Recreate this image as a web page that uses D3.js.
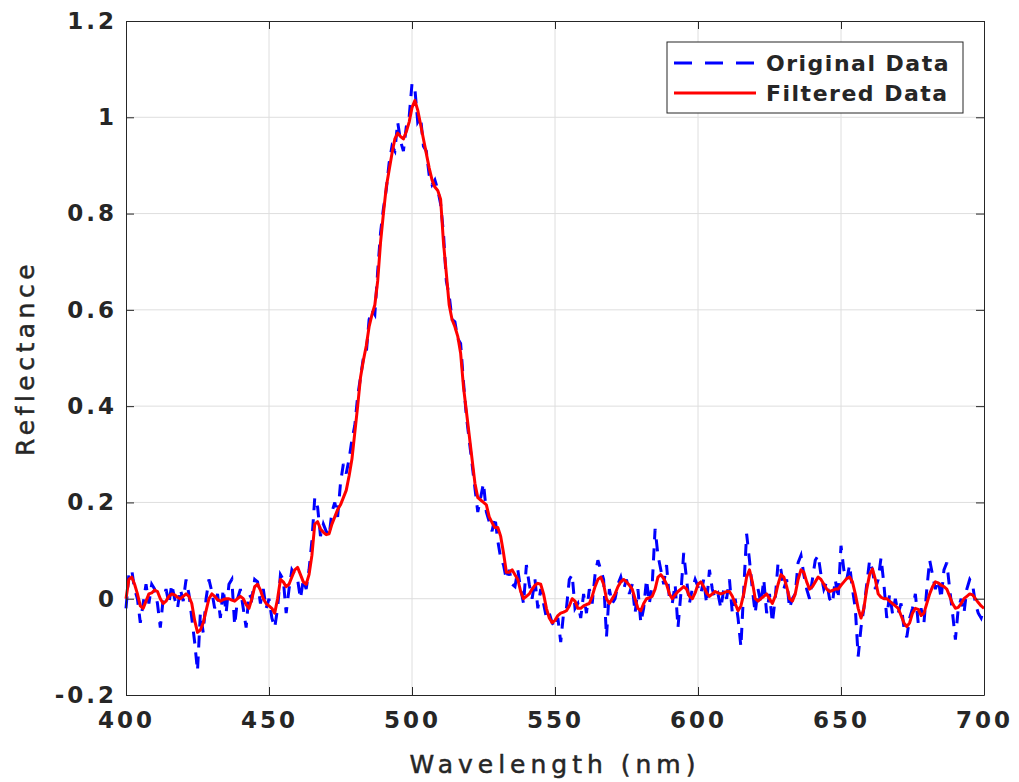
<!DOCTYPE html>
<html>
<head>
<meta charset="utf-8">
<script src="https://cdn.jsdelivr.net/npm/d3@7"></script>
<style>
  body { margin: 0; background: #fff; }
  text { font-family: "DejaVu Sans", sans-serif; fill: #262626; }
</style>
</head>
<body>
<div id="chart"></div>
<script>
// wavelength samples, 1 nm step
var wavelengths = d3.range(400, 701);

var xTicks = [400, 450, 500, 550, 600, 650, 700];
var yTicks = [-0.2, 0, 0.2, 0.4, 0.6, 0.8, 1, 1.2];
var yTickLabels = ["-0.2", "0", "0.2", "0.4", "0.6", "0.8", "1", "1.2"];

var originalData = [
  -0.02, 0.05, 0.06, 0.02, 0.0, -0.05, -0.01, 0.03, -0.01, 0.03,
  0.02, -0.01, -0.06, 0.0, 0.02, -0.01, 0.03, 0.0, -0.02, 0.02,
  -0.005, 0.04, 0.01, -0.04, -0.09, -0.15, -0.03, -0.07, 0.0, 0.04,
  0.015, -0.02, 0.01, -0.04, 0.02, -0.03, 0.03, 0.04, -0.055, 0.0,
  0.02, -0.02, -0.06, 0.01, 0.0, 0.04, 0.035, -0.01, 0.02, -0.02,
  0.0, -0.04, -0.06, -0.02, 0.05, 0.04, -0.03, 0.02, 0.06, 0.05,
  0.04, 0.0, 0.04, 0.02, 0.06, 0.12, 0.21, 0.19, 0.13, 0.155,
  0.14, 0.13, 0.18, 0.2, 0.17, 0.24, 0.28, 0.26, 0.29, 0.33,
  0.36, 0.42, 0.46, 0.50, 0.51, 0.58, 0.60, 0.59, 0.68, 0.76,
  0.81, 0.85, 0.905, 0.94, 0.93, 0.99, 0.95, 0.93, 0.98, 1.0,
  1.07, 1.06, 0.99, 1.0, 0.94, 0.93, 0.88, 0.86, 0.87, 0.85,
  0.82, 0.76, 0.66, 0.63, 0.58, 0.575, 0.54, 0.53, 0.45, 0.38,
  0.33, 0.28, 0.23, 0.18, 0.21, 0.24, 0.18, 0.16, 0.14, 0.17,
  0.12, 0.085, 0.07, 0.04, 0.06, 0.03, 0.025, 0.06, 0.02, -0.01,
  0.07, 0.03, 0.0, 0.04, -0.02, 0.02, -0.01, -0.04, -0.03, -0.05,
  -0.06, -0.04, -0.09, -0.03, -0.02, 0.04, 0.05, -0.02, -0.01, -0.04,
  0.01, -0.03, 0.02, -0.01, 0.05, 0.08, 0.06, 0.04, -0.08, 0.02,
  -0.01, 0.0, 0.03, 0.045, 0.02, 0.04, 0.01, 0.03, -0.03, 0.02,
  -0.05, -0.02, 0.04, -0.01, 0.03, 0.145, 0.09, 0.06, 0.03, 0.07,
  0.0, -0.01, 0.03, -0.06, 0.01, 0.095, 0.04, -0.01, 0.02, 0.04,
  0.025, 0.01, 0.04, -0.01, 0.06, 0.02, 0.0, 0.01, -0.02, 0.02,
  0.0, 0.04, -0.03, 0.0, -0.04, -0.1, 0.02, 0.135, 0.08, 0.02,
  -0.03, 0.02, -0.01, 0.04, -0.03, 0.01, -0.05, 0.0, 0.075, 0.06,
  0.02, 0.04, -0.02, 0.0, 0.01, 0.075, 0.09, 0.05, 0.02, 0.0,
  0.04, 0.08, 0.09, 0.05, 0.02, 0.035, 0.0, -0.01, 0.04, 0.0,
  0.11, 0.06, 0.04, 0.07, 0.02, -0.02, -0.12, -0.06, -0.02, 0.03,
  0.08, 0.06, 0.02, 0.04, 0.085, 0.03, -0.04, 0.01, -0.03, 0.0,
  -0.03, -0.01, -0.06, -0.08, -0.04, -0.02, 0.01, -0.05, -0.02, -0.05,
  0.02, 0.08, 0.05, 0.02, 0.04, 0.0, 0.06, 0.075, 0.02, -0.03,
  -0.085, -0.02, 0.0, -0.03, 0.02, 0.04, 0.03, -0.01, -0.03, -0.04,
  -0.02
];

var filteredData = [
  0.0, 0.04, 0.045, 0.03, 0.01, -0.015, -0.02, -0.005, 0.01, 0.012,
  0.018, 0.015, 0.0, -0.01, -0.005, 0.005, 0.01, 0.008, 0.003, 0.0,
  0.005, 0.01, 0.005, -0.01, -0.045, -0.07, -0.065, -0.05, -0.025, 0.0,
  0.01, 0.005, -0.002, -0.005, -0.002, 0.0, 0.0, -0.003, -0.005, 0.0,
  0.005, 0.0, -0.012, -0.02, 0.0, 0.025, 0.03, 0.018, 0.0, -0.01,
  -0.015, -0.02, -0.03, 0.0, 0.04, 0.035, 0.025, 0.03, 0.045, 0.06,
  0.065, 0.05, 0.035, 0.03, 0.05, 0.09, 0.155, 0.16, 0.145, 0.138,
  0.133, 0.135, 0.155, 0.17, 0.185, 0.195, 0.21, 0.225, 0.255, 0.29,
  0.345, 0.40, 0.46, 0.495, 0.525, 0.565, 0.59, 0.61, 0.66, 0.74,
  0.80, 0.855, 0.89, 0.925, 0.955, 0.967, 0.96, 0.955, 0.97, 0.99,
  1.02, 1.035, 1.015, 0.985, 0.955, 0.925, 0.895, 0.87, 0.855, 0.848,
  0.83, 0.74, 0.676, 0.61, 0.58, 0.565, 0.545, 0.51, 0.44, 0.39,
  0.34, 0.29, 0.24, 0.21, 0.205, 0.2, 0.195, 0.17, 0.158, 0.148,
  0.148, 0.13, 0.095, 0.055, 0.055, 0.06, 0.05, 0.04, 0.015, 0.0,
  0.005, 0.01, 0.02, 0.028, 0.032, 0.03, 0.01, -0.02, -0.04, -0.05,
  -0.045, -0.035, -0.03, -0.028, -0.025, -0.015, 0.0, -0.005, -0.02, -0.02,
  -0.015, -0.012, -0.01, 0.005, 0.025, 0.04, 0.045, 0.03, 0.0, -0.01,
  0.0, 0.01, 0.025, 0.035, 0.04, 0.035, 0.028, 0.02, 0.0, -0.02,
  -0.025, -0.01, 0.0, 0.002, 0.005, 0.02, 0.045, 0.05, 0.042, 0.03,
  0.01, 0.0, 0.008, 0.015, 0.02, 0.025, 0.02, 0.005, 0.0, 0.012,
  0.03, 0.035, 0.025, 0.012, 0.005, 0.01, 0.015, 0.012, 0.01, 0.012,
  0.015, 0.015, 0.005, -0.01, -0.025, -0.015, 0.01, 0.045, 0.06, 0.035,
  0.0, -0.005, 0.0, 0.005, 0.01, 0.0, -0.01, 0.005, 0.03, 0.05,
  0.045, 0.025, 0.0, -0.005, 0.01, 0.04, 0.06, 0.055, 0.035, 0.02,
  0.025, 0.035, 0.045, 0.04, 0.03, 0.02, 0.015, 0.017, 0.02, 0.02,
  0.028, 0.035, 0.042, 0.045, 0.035, 0.01, -0.02, -0.04, -0.02, 0.02,
  0.05, 0.062, 0.04, 0.01, 0.003, 0.0, 0.0, -0.005, -0.01, -0.015,
  -0.02, -0.035, -0.05, -0.058, -0.05, -0.03, -0.02, -0.022, -0.035, -0.03,
  -0.01, 0.01, 0.025, 0.035, 0.033, 0.028, 0.025, 0.02, 0.005, -0.01,
  -0.02, -0.018, -0.01, 0.0, 0.005, 0.01, 0.008, 0.0, -0.008, -0.015,
  -0.02
];

var seriesNames = ["Original Data", "Filtered Data"];
var seriesColors = ["#0000ff", "#ff0000"];

var W = 1019, H = 782;
var margin = {top: 21, right: 35, bottom: 87, left: 126},
    width = W - margin.left - margin.right,
    height = H - margin.top - margin.bottom;

var svg = d3.select("#chart")
    .append("svg")
    .attr("width", W)
    .attr("height", H)
    .append("g")
    .attr("transform", "translate(" + margin.left + "," + margin.top + ")");

var x = d3.scaleLinear().domain([400, 700]).range([0, width]);
var y = d3.scaleLinear().domain([-0.2, 1.2]).range([height, 0]);

// grid
svg.append("g").selectAll("line.vg")
    .data(xTicks.slice(1, -1))
    .enter().append("line")
    .attr("x1", function (d) { return x(d); })
    .attr("x2", function (d) { return x(d); })
    .attr("y1", 0).attr("y2", height)
    .attr("stroke", "#dedede").attr("stroke-width", 1);
svg.append("g").selectAll("line.hg")
    .data(yTicks.slice(1, -1))
    .enter().append("line")
    .attr("x1", 0).attr("x2", width)
    .attr("y1", function (d) { return y(d); })
    .attr("y2", function (d) { return y(d); })
    .attr("stroke", "#dedede").attr("stroke-width", 1);

// data lines
var line = function (vals) {
  return d3.line()
      .x(function (d, i) { return x(wavelengths[i]); })
      .y(function (d) { return y(d); })(vals);
};

svg.append("path")
    .attr("d", line(originalData))
    .attr("fill", "none")
    .attr("stroke", seriesColors[0])
    .attr("stroke-width", 3)
    .attr("stroke-dasharray", "12,9");

svg.append("path")
    .attr("d", line(filteredData))
    .attr("fill", "none")
    .attr("stroke", seriesColors[1])
    .attr("stroke-width", 3)
    .attr("stroke-linejoin", "round");

// axes: inward ticks on all four sides, box
var tickLen = 8;
var fmt = function (d, i) { return yTickLabels[i]; };

svg.append("g")
    .attr("transform", "translate(0," + height + ")")
    .call(d3.axisBottom(x).tickValues(xTicks).tickSizeInner(-tickLen).tickSizeOuter(0).tickPadding(17))
    .call(function (g) {
      g.select(".domain").attr("stroke", "#262626");
      g.selectAll(".tick line").attr("stroke", "#262626");
      g.selectAll("text").attr("font-size", 23).attr("font-weight", "bold")
        .attr("letter-spacing", 3).attr("fill", "#262626")
        .attr("font-family", "DejaVu Sans");
    });

svg.append("g")
    .call(d3.axisTop(x).tickValues(xTicks).tickSizeInner(-tickLen).tickSizeOuter(0).tickFormat(""))
    .call(function (g) {
      g.select(".domain").attr("stroke", "#262626");
      g.selectAll(".tick line").attr("stroke", "#262626");
    });

svg.append("g")
    .call(d3.axisLeft(y).tickValues(yTicks).tickFormat(fmt).tickSizeInner(-tickLen).tickSizeOuter(0).tickPadding(9))
    .call(function (g) {
      g.select(".domain").attr("stroke", "#262626");
      g.selectAll(".tick line").attr("stroke", "#262626");
      g.selectAll("text").attr("font-size", 23).attr("font-weight", "bold")
        .attr("letter-spacing", 3).attr("fill", "#262626")
        .attr("font-family", "DejaVu Sans");
    });

svg.append("g")
    .attr("transform", "translate(" + width + ",0)")
    .call(d3.axisRight(y).tickValues(yTicks).tickSizeInner(-tickLen).tickSizeOuter(0).tickFormat(""))
    .call(function (g) {
      g.select(".domain").attr("stroke", "#262626");
      g.selectAll(".tick line").attr("stroke", "#262626");
    });

// axis labels
svg.append("text")
    .attr("x", width / 2)
    .attr("y", height + 78)
    .attr("text-anchor", "middle")
    .attr("font-size", 25)
    .attr("letter-spacing", 5)
    .attr("stroke", "#262626").attr("stroke-width", 0.5)
    .text("Wavelength (nm)");

svg.append("text")
    .attr("transform", "rotate(-90)")
    .attr("x", -height / 2)
    .attr("y", -92)
    .attr("text-anchor", "middle")
    .attr("font-size", 25)
    .attr("letter-spacing", 4.5)
    .attr("stroke", "#262626").attr("stroke-width", 0.5)
    .text("Reflectance");

// legend
var lg = svg.append("g").attr("transform", "translate(" + (667 - margin.left) + "," + (42 - margin.top) + ")");
lg.append("rect")
    .attr("width", 296).attr("height", 71)
    .attr("fill", "#fff").attr("stroke", "#262626").attr("stroke-width", 1);
seriesNames.forEach(function (name, i) {
  var ly = 21 + i * 30;
  lg.append("line")
      .attr("x1", 7).attr("x2", 89)
      .attr("y1", ly).attr("y2", ly)
      .attr("stroke", seriesColors[i])
      .attr("stroke-width", 3)
      .attr("stroke-dasharray", i === 0 ? "18,13" : null);
  lg.append("text")
      .attr("x", 99)
      .attr("y", ly + 8)
      .attr("font-size", 22)
      .attr("font-weight", "bold")
      .attr("letter-spacing", 1.5)
      .attr("fill", "#000")
      .text(name);
});
</script>
</body>
</html>
